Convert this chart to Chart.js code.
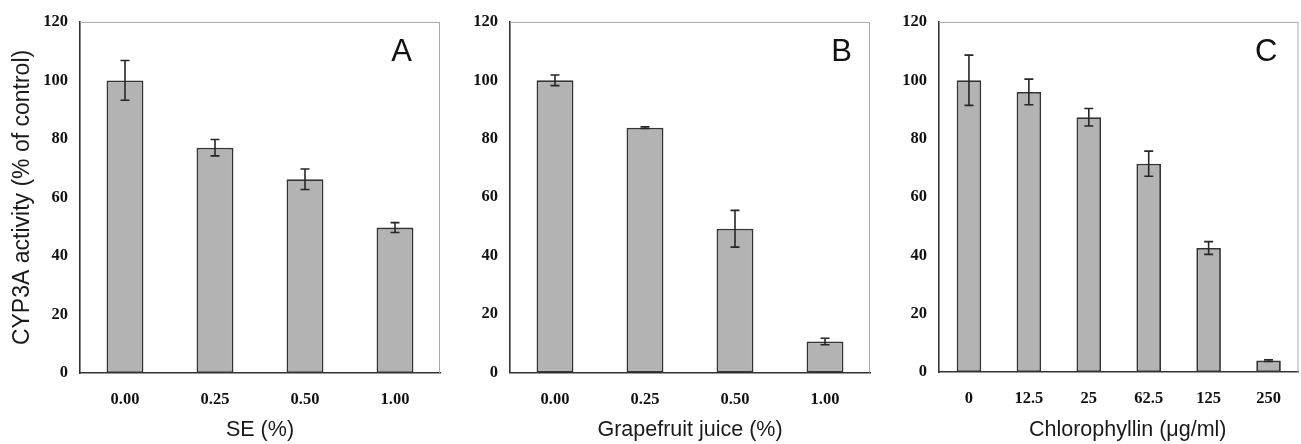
<!DOCTYPE html>
<html>
<head>
<meta charset="utf-8">
<script src="https://cdn.jsdelivr.net/npm/chart.js@4/dist/chart.umd.min.js"></script>
<style>
  html, body { margin: 0; padding: 0; background: #ffffff; }
  #wrap { position: relative; width: 1301px; height: 444px; }
  .panel { position: absolute; top: 0; height: 444px; }
</style>
</head>
<body>
<div id="wrap">
  <div class="panel" style="left:0px;width:445px"><canvas id="cA"></canvas></div>
  <div class="panel" style="left:445px;width:430px"><canvas id="cB"></canvas></div>
  <div class="panel" style="left:875px;width:426px"><canvas id="cC"></canvas></div>
</div>
<script>
// ---- data ----
const categoriesA = ["0.00", "0.25", "0.50", "1.00"];
const valuesA = [100, 77, 66.2, 49.7];
const errorsA = [6.8, 2.8, 3.5, 1.7];

const categoriesB = ["0.00", "0.25", "0.50", "1.00"];
const valuesB = [100, 83.8, 49.2, 10.6];
const errorsB = [1.8, 0.3, 6.3, 1.1];

const categoriesC = ["0", "12.5", "25", "62.5", "125", "250"];
const valuesC = [100, 96, 87.3, 71.4, 42.5, 3.9];
const errorsC = [8.6, 4.4, 3.0, 4.3, 2.2, 0.3];

const yTicks = [0, 20, 40, 60, 80, 100, 120];
const yTitle = "CYP3A activity (% of control)";
const xTitles = ["SE (%)", "Grapefruit juice (%)", "Chlorophyllin (\u03bcg/ml)"];
const panelLetters = ["A", "B", "C"];

// ---- plugins ----
const errorBarPlugin = {
  id: 'errorBars',
  afterDatasetsDraw(chart, args, opts) {
    const ctx = chart.ctx;
    const meta = chart.getDatasetMeta(0);
    const ys = chart.scales.y;
    const errs = opts.errors || [];
    ctx.save();
    ctx.strokeStyle = '#262626';
    ctx.lineWidth = 1.6;
    meta.data.forEach((bar, i) => {
      const v = chart.data.datasets[0].data[i];
      const e = errs[i] || 0;
      const x = bar.x;
      const yTop = ys.getPixelForValue(v + e);
      const yBot = ys.getPixelForValue(v - e);
      const cap = 4.5;
      ctx.beginPath();
      ctx.moveTo(x, yTop); ctx.lineTo(x, yBot);
      ctx.moveTo(x - cap, yTop); ctx.lineTo(x + cap, yTop);
      ctx.moveTo(x - cap, yBot); ctx.lineTo(x + cap, yBot);
      ctx.stroke();
    });
    ctx.restore();
  }
};

const framePlugin = {
  id: 'frame',
  afterDraw(chart, args, opts) {
    const {ctx, chartArea: a} = chart;
    ctx.save();
    ctx.strokeStyle = '#a8a8a8';
    ctx.lineWidth = 1;
    ctx.beginPath();
    ctx.moveTo(a.left, a.top + 0.5);
    ctx.lineTo(a.right - 0.5, a.top + 0.5);
    ctx.lineTo(a.right - 0.5, a.bottom);
    ctx.stroke();
    // panel letter
    ctx.fillStyle = '#111';
    ctx.font = '31px "Liberation Sans", Arial, sans-serif';
    ctx.textAlign = 'right';
    ctx.textBaseline = 'alphabetic';
    ctx.fillText(opts.letter, a.right - opts.letterInset, a.top + 39);
    ctx.restore();
  }
};

function makeChart(id, cats, vals, errs, opt) {
  return new Chart(document.getElementById(id), {
    type: 'bar',
    data: {
      labels: cats,
      datasets: [{
        data: vals,
        backgroundColor: '#b3b3b3',
        borderColor: '#333333',
        borderWidth: 1.8,
        borderSkipped: false,
        barPercentage: 0.41,
        categoryPercentage: 1.0
      }]
    },
    options: {
      responsive: true,
      maintainAspectRatio: false,
      animation: false,
      layout: { padding: { left: 0, top: opt.top, right: opt.right, bottom: 0 } },
      plugins: {
        legend: { display: false },
        tooltip: { enabled: false },
        errorBars: { errors: errs },
        frame: { letter: opt.letter, letterInset: opt.letterInset }
      },
      scales: {
        x: {
          grid: { display: false, drawTicks: false },
          border: { display: true, color: '#333333', width: 1.6 },
          ticks: {
            color: '#111',
            font: { family: '"Liberation Serif", "Times New Roman", serif', size: 16.5, weight: 'bold' },
            padding: 17,
            maxRotation: 0,
            autoSkip: false
          },
          title: {
            display: true,
            text: opt.xTitle,
            color: '#1a1a1a',
            font: { family: '"Liberation Sans", Arial, sans-serif', size: 21.5 },
            padding: { top: 0, bottom: 1 }
          },
          afterFit(scale) { scale.height = 444 - opt.bottom; }
        },
        y: {
          min: 0,
          max: 120,
          afterBuildTicks(scale) { scale.ticks = yTicks.map(v => ({ value: v })); },
          grid: { display: false, drawTicks: false },
          border: { display: true, color: '#333333', width: 1.6 },
          ticks: {
            color: '#111',
            font: { family: '"Liberation Serif", "Times New Roman", serif', size: 16.5, weight: 'bold' },
            padding: 12
          },
          title: {
            display: !!opt.yTitle,
            text: opt.yTitle || '',
            color: '#1a1a1a',
            font: { family: '"Liberation Sans", Arial, sans-serif', size: 23 },
            padding: { top: 9, bottom: 0 }
          },
          afterFit(scale) { scale.width = opt.left; }
        }
      }
    },
    plugins: [errorBarPlugin, framePlugin]
  });
}

makeChart('cA', categoriesA, valuesA, errorsA,
  { left: 80, right: 5, top: 18, bottom: 373, xTitle: xTitles[0], yTitle: yTitle, letter: panelLetters[0], letterInset: 28 });
makeChart('cB', categoriesB, valuesB, errorsB,
  { left: 65, right: 5, top: 18, bottom: 372.5, xTitle: xTitles[1], letter: panelLetters[1], letterInset: 18 });
makeChart('cC', categoriesC, valuesC, errorsC,
  { left: 64, right: 2.5, top: 17.5, bottom: 372, xTitle: "   " + xTitles[2], letter: panelLetters[2], letterInset: 21 });
</script>
</body>
</html>
